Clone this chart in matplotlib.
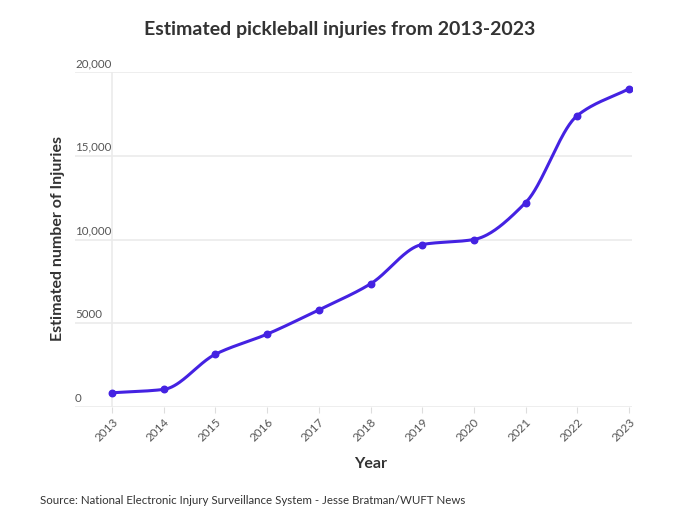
import numpy as np
import matplotlib
matplotlib.use("Agg")
import matplotlib.pyplot as plt
import matplotlib.transforms as mtransforms

years = [2013, 2014, 2015, 2016, 2017, 2018, 2019, 2020, 2021, 2022, 2023]
injuries = [850, 1050, 3150, 4350, 5800, 7350, 9700, 10000, 12200, 17400, 19000]
y_ticks = [0, 5000, 10000, 15000, 20000]
y_tick_labels = ["0", "5000", "10,000", "15,000", "20,000"]

LINE = "#4422e2"
GRID = "#ebebeb"
TXT = "#333333"
TICK = "#555555"

plt.rcParams['font.family'] = ['Lato', 'DejaVu Sans']


def monotone_curve(x, y, n=40):
    # Fritsch-Carlson monotone cubic, only used to draw the smooth line
    x = np.asarray(x, float)
    y = np.asarray(y, float)
    h = np.diff(x)
    d = np.diff(y) / h
    m = np.zeros_like(y)
    m[0], m[-1] = d[0], d[-1]
    for i in range(1, len(y) - 1):
        if d[i - 1] * d[i] <= 0:
            m[i] = 0
        else:
            w1 = 2 * h[i] + h[i - 1]
            w2 = h[i] + 2 * h[i - 1]
            m[i] = (w1 + w2) / (w1 / d[i - 1] + w2 / d[i])
    xs, ys = [], []
    for i in range(len(x) - 1):
        t = np.linspace(0, 1, n)
        h00 = 2 * t**3 - 3 * t**2 + 1
        h10 = t**3 - 2 * t**2 + t
        h01 = -2 * t**3 + 3 * t**2
        h11 = t**3 - t**2
        xs.append(x[i] + t * h[i])
        ys.append(h00 * y[i] + h10 * h[i] * m[i] + h01 * y[i + 1] + h11 * h[i] * m[i + 1])
    return np.concatenate(xs), np.concatenate(ys)


fig = plt.figure(figsize=(7, 5.15), dpi=100)
ax = fig.add_axes([75 / 700, 1 - 407 / 515, (632 - 75) / 700, (407 - 72) / 515])

x_left = 2013 - 37 / 51.7
x_right = 2023 + 3 / 51.7
ax.set_xlim(x_left, x_right)
ax.set_ylim(0, 20000)

for v in y_ticks:
    ax.axhline(v, color=GRID, lw=1.2, zorder=0)
ax.axvline(2013, color=GRID, lw=1.2, zorder=0)

xs, ys = monotone_curve(years, injuries)
ax.plot(xs, ys, color=LINE, lw=2.2, zorder=3, solid_capstyle='round')
ax.scatter(years, injuries, color=LINE, s=22, zorder=4)

for sp in ax.spines.values():
    sp.set_visible(False)

ax.set_yticks([])
ax.set_xticks(years)
ax.set_xticklabels([str(y) for y in years], rotation=45, ha='right',
                   rotation_mode='anchor', fontsize=8.5, color=TICK)
ax.tick_params(axis='x', length=4, color='#dddddd', pad=3)

trans = mtransforms.blended_transform_factory(ax.transAxes, ax.transData)
for v, lab in zip(y_ticks, y_tick_labels):
    ax.text(0.0, v + 180, lab, transform=trans, ha='left', va='bottom',
            fontsize=8.3, color=TICK)

fig.text(340 / 700, 1 - 30 / 515, "Estimated pickleball injuries from 2013-2023",
         ha='center', va='center', fontsize=14, fontweight='bold', color=TXT)
fig.text(58 / 700, 1 - 238 / 515, "Estimated number of Injuries", rotation=90,
         ha='center', va='center', fontsize=11.5, fontweight='bold', color=TXT)
fig.text(371 / 700, 1 - 464 / 515, "Year", ha='center', va='center',
         fontsize=11.5, fontweight='bold', color=TXT)
fig.text(40 / 700, 1 - 500 / 515,
         "Source: National Electronic Injury Surveillance System - Jesse Bratman/WUFT News",
         ha='left', va='center', fontsize=8.3, color=TXT)

fig.savefig("out.png", dpi=100, facecolor='white')
